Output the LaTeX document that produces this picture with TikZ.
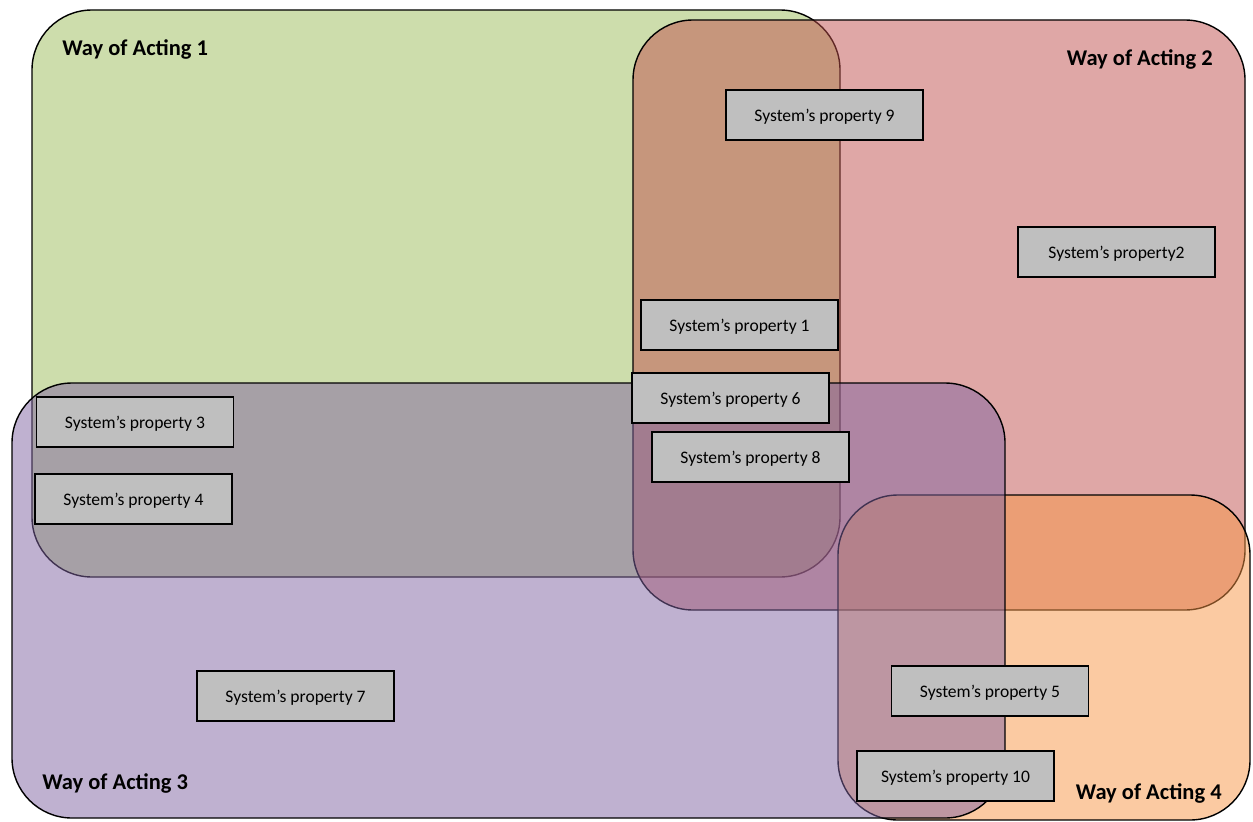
\documentclass[tikz,border=0pt]{standalone}
\usepackage{fontspec}
\setmainfont{Carlito}
\usepackage{tikz}

\definecolor{greenA}{RGB}{155,187,89}
\definecolor{redA}{RGB}{192,80,77}
\definecolor{purpleA}{RGB}{128,100,162}
\definecolor{orangeA}{RGB}{247,150,70}
\definecolor{boxgray}{RGB}{191,191,191}

\begin{document}
\begin{tikzpicture}[x=0.02cm,y=-0.02cm,
	region/.style={draw=black,line width=0.8pt,rounded corners=1.2cm,fill opacity=0.5},
	propbox/.style={draw=black,line width=0.8pt,fill=boxgray,minimum width=3.94cm,minimum height=1cm,inner sep=0pt,text depth=0pt,font=\fontsize{10}{12}\selectfont},
	waylabel/.style={font=\bfseries\fontsize{12.8}{15}\selectfont,inner sep=0pt,text depth=0pt}]
	\useasboundingbox (0,0) rectangle (1253,821);

	% the four ways of acting
	\draw[region,fill=greenA]  (32,10)   rectangle (840,577);
	\draw[region,fill=redA]    (633,20)  rectangle (1245,610);
	\draw[region,fill=orangeA] (838,495) rectangle (1250,820);
	\draw[region,fill=purpleA] (12,383)  rectangle (1005,818);

	\node[waylabel,anchor=west] (w1) at (62, 48)   {Way of Acting 1};
	\node[waylabel,anchor=east] (w2) at (1213, 58) {Way of Acting 2};
	\node[waylabel,anchor=west] (w3) at (42, 782)  {Way of Acting 3};
	\node[waylabel,anchor=east] (w4) at (1222, 792) {Way of Acting 4};

	% properties
	\node[propbox] (p9)  at (824.5, 115)  {System’s property 9};
	\node[propbox] (p2)  at (1116.5, 252) {System’s property2};
	\node[propbox] (p1)  at (739.5, 325)  {System’s property 1};
	\node[propbox] (p6)  at (730.5, 398)  {System’s property 6};
	\node[propbox] (p8)  at (750.5, 457)  {System’s property 8};
	\node[propbox] (p3)  at (135, 422)    {System’s property 3};
	\node[propbox] (p4)  at (133.5, 499)  {System’s property 4};
	\node[propbox] (p7)  at (295.5, 696)  {System’s property 7};
	\node[propbox] (p5)  at (990, 691)    {System’s property 5};
	\node[propbox] (p10) at (955.5, 776)  {System’s property 10};
\end{tikzpicture}
\end{document}
